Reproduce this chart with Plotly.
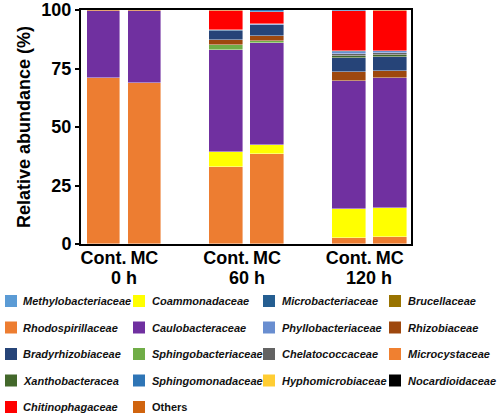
import plotly.graph_objects as go

# ---- data ----
bar_group = [0, 0, 1, 1, 2, 2]
bar_sub = [0, 1, 0, 1, 0, 1]
bar_ticktext = ["Cont.", "MC", "Cont.", "MC", "Cont.", "MC"]
time_labels = ["0 h", "60 h", "120 h"]

# stacking order, bottom -> top
families = [
    "Rhodospirillaceae", "Coammonadaceae", "Caulobacteraceae", "Sphingobacteriaceae",
    "Rhizobiaceae", "Bradyrhizobiaceae", "Xanthobacteracea", "Chelatococcaceae",
    "Phyllobacteriaceae", "Microbacteriaceae", "Methylobacteriaceae", "Hyphomicrobiaceae",
    "Brucellaceae", "Microcystaceae", "Nocardioidaceae", "Chitinophagaceae",
    "Sphingomonadaceae", "Others",
]
Rhodospirillaceae = [70.9, 68.8, 33.0, 38.5, 2.4, 3.1]
Coammonadaceae = [0, 0, 6.4, 3.9, 12.5, 12.1]
Caulobacteraceae = [28.6, 30.7, 43.6, 43.4, 54.7, 55.6]
Sphingobacteriaceae = [0, 0, 2.2, 1.1, 0.1, 0.1]
Rhizobiaceae = [0, 0, 2.0, 2.1, 3.7, 3.2]
Bradyrhizobiaceae = [0, 0, 3.7, 4.6, 6.1, 5.7]
Xanthobacteracea = [0, 0, 0, 0, 1.0, 1.0]
Chelatococcaceae = [0, 0, 0, 0.1, 0.7, 0.7]
Phyllobacteriaceae = [0, 0, 0.3, 0.3, 1.0, 0.9]
Microbacteriaceae = [0, 0, 0.2, 0.1, 0.1, 0.1]
Methylobacteriaceae = [0, 0, 0, 0, 0, 0]
Hyphomicrobiaceae = [0, 0, 0, 0, 0, 0]
Brucellaceae = [0, 0, 0, 0, 0, 0]
Microcystaceae = [0, 0, 0, 0, 0, 0]
Nocardioidaceae = [0, 0, 0, 0, 0, 0]
Chitinophagaceae = [0, 0, 8.2, 5.2, 17.4, 17.1]
Sphingomonadaceae = [0, 0, 0, 0.6, 0.3, 0]
Others = [0.5, 0.5, 0.4, 0, 0, 0.4]

values = {
    "Rhodospirillaceae": Rhodospirillaceae, "Coammonadaceae": Coammonadaceae,
    "Caulobacteraceae": Caulobacteraceae, "Sphingobacteriaceae": Sphingobacteriaceae,
    "Rhizobiaceae": Rhizobiaceae, "Bradyrhizobiaceae": Bradyrhizobiaceae,
    "Xanthobacteracea": Xanthobacteracea, "Chelatococcaceae": Chelatococcaceae,
    "Phyllobacteriaceae": Phyllobacteriaceae, "Microbacteriaceae": Microbacteriaceae,
    "Methylobacteriaceae": Methylobacteriaceae, "Hyphomicrobiaceae": Hyphomicrobiaceae,
    "Brucellaceae": Brucellaceae, "Microcystaceae": Microcystaceae,
    "Nocardioidaceae": Nocardioidaceae, "Chitinophagaceae": Chitinophagaceae,
    "Sphingomonadaceae": Sphingomonadaceae, "Others": Others,
}

colors = {
    "Methylobacteriaceae": "#5B9BD5", "Rhodospirillaceae": "#ED7D31",
    "Bradyrhizobiaceae": "#264478", "Xanthobacteracea": "#43682B",
    "Chitinophagaceae": "#FF0000", "Coammonadaceae": "#FFFF00",
    "Caulobacteraceae": "#7030A0", "Sphingobacteriaceae": "#70AD47",
    "Sphingomonadaceae": "#2E75B6", "Others": "#D0640F",
    "Microbacteriaceae": "#255E91", "Phyllobacteriaceae": "#698ED0",
    "Chelatococcaceae": "#636363", "Hyphomicrobiaceae": "#FFCD33",
    "Brucellaceae": "#997300", "Rhizobiaceae": "#9E480E",
    "Microcystaceae": "#F08030", "Nocardioidaceae": "#000000",
}

# legend columns (top -> bottom)
legend_cols = [
    ["Methylobacteriaceae", "Rhodospirillaceae", "Bradyrhizobiaceae", "Xanthobacteracea", "Chitinophagaceae"],
    ["Coammonadaceae", "Caulobacteraceae", "Sphingobacteriaceae", "Sphingomonadaceae", "Others"],
    ["Microbacteriaceae", "Phyllobacteriaceae", "Chelatococcaceae", "Hyphomicrobiaceae"],
    ["Brucellaceae", "Rhizobiaceae", "Microcystaceae", "Nocardioidaceae"],
]

xpos = [g * 3 + s for g, s in zip(bar_group, bar_sub)]

W, H = 499, 417
ML, MR, MT, MB = 81, 88, 10, 173
PW, PH = W - ML - MR, H - MT - MB
FONT = "Liberation Sans, Arial, sans-serif"


def px_x(px):
    return (px - ML) / PW


def px_y(py):
    return (H - MB - py) / PH


fig = go.Figure()
for fam in families:
    fig.add_trace(go.Bar(
        x=xpos, y=values[fam], name=fam,
        marker=dict(color=colors[fam], line=dict(color="rgba(255,255,255,0.7)", width=0.6)),
        width=0.82, showlegend=False, hoverinfo="skip",
    ))

# legend drawn as a 4-column grid (swatch + label)
col_sw_px = [5, 133, 263, 389]
col_tx_px = [21, 150, 280, 406]
row_c_px = [301, 327.5, 354, 380.5, 407]
for ci, col in enumerate(legend_cols):
    for ri, fam in enumerate(col):
        cy = row_c_px[ri]
        fig.add_shape(type="rect", xref="paper", yref="paper",
                      x0=px_x(col_sw_px[ci]), x1=px_x(col_sw_px[ci] + 12),
                      y0=px_y(cy + 6), y1=px_y(cy - 6),
                      fillcolor=colors[fam], line=dict(width=0))
        label = f"<b>{fam}</b>" if fam == "Others" else f"<b><i>{fam}</i></b>"
        fig.add_annotation(x=px_x(col_tx_px[ci]), y=px_y(cy), xref="paper", yref="paper",
                           text=label, showarrow=False, xanchor="left", yanchor="middle",
                           font=dict(family=FONT, size=11, color="#111"))

for g, t in enumerate(time_labels):
    fig.add_annotation(x=g * 3 + 0.5, y=0, xref="x", yref="paper", yshift=-22,
                       text=f"<b>{t}</b>", showarrow=False, yanchor="top",
                       font=dict(family=FONT, size=18, color="#000"))

fig.update_layout(
    width=W, height=H, barmode="stack", showlegend=False,
    plot_bgcolor="white", paper_bgcolor="white",
    margin=dict(l=ML, r=MR, t=MT, b=MB, autoexpand=False),
    font=dict(family=FONT, color="#000"),
    bargap=0,
)
fig.update_xaxes(
    range=[-0.55, 7.52], tickvals=xpos, ticktext=[f"<b>{t}</b>" for t in bar_ticktext],
    tickfont=dict(family=FONT, size=18, color="#000"), ticks="", ticklabelstandoff=-4,
    showline=True, linecolor="#000", linewidth=2, mirror=True,
    showgrid=False, zeroline=False,
)
fig.update_yaxes(
    range=[0, 100], tickvals=[0, 25, 50, 75, 100],
    ticktext=["<b>0</b>", "<b>25</b>", "<b>50</b>", "<b>75</b>", "<b>100</b>"],
    tickfont=dict(family=FONT, size=18, color="#000"),
    ticks="outside", ticklen=4, tickwidth=1.5, tickcolor="#000",
    showline=True, linecolor="#000", linewidth=2, mirror=True,
    showgrid=False, zeroline=False,
    title=dict(text="<b>Relative abundance (%)</b>", font=dict(family=FONT, size=18, color="#000"), standoff=6),
)

fig.write_html("out.html", config={"displayModeBar": False},
               post_script="document.body.style.margin='0';document.body.style.overflow='hidden';")
